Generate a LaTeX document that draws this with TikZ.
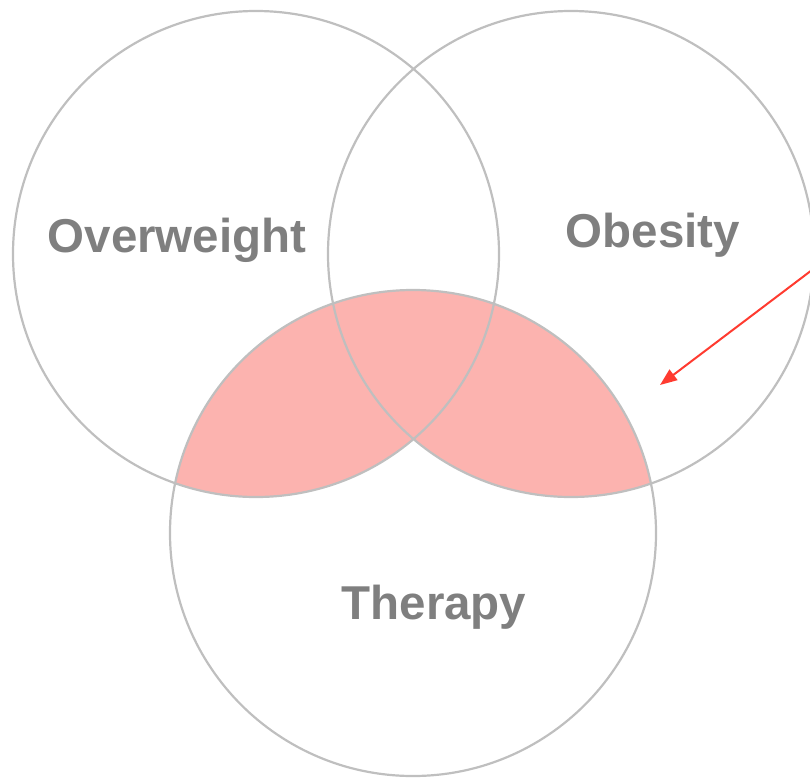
\documentclass[tikz,border=0pt]{standalone}
\usepackage{fontspec}
\setmainfont{Liberation Sans}
\usepackage{tikz}
\usetikzlibrary{arrows.meta}

\definecolor{ringgray}{HTML}{BFBFBF}
\definecolor{labelgray}{HTML}{7F7F7F}
\definecolor{overlappink}{HTML}{FCB3AF}
\definecolor{pointred}{HTML}{FF3B30}

\begin{document}
\begin{tikzpicture}[x=1pt,y=-1pt,
    ring/.style={draw=ringgray,line width=2.2pt},
    setlabel/.style={text=labelgray,font=\fontsize{47.5}{50}\selectfont\bfseries,anchor=base,inner sep=0pt}]
          \useasboundingbox (0,0) rectangle (810,779);
          \coordinate (over) at (256,254);
          \coordinate (obes) at (571,254);
          \coordinate (ther) at (413,533);
          % shaded part: therapy with overweight or obesity
          \begin{scope}
            \clip (ther) circle (243);
            \fill[overlappink] (over) circle (243);
            \fill[overlappink] (obes) circle (243);
          \end{scope}
          \draw[ring] (over) circle (243);
          \draw[ring] (obes) circle (243);
          \draw[ring] (ther) circle (243);
          \node[setlabel] (overlabel) at (177,252) {Overweight};
          \node[setlabel] (obeslabel) at (653,247) {Obesity};
          \node[setlabel] (therlabel) at (434,619) {Therapy};
          \coordinate (pointfrom) at (812,270);
          \coordinate (pointto) at (660,385);
          \draw[pointred,line width=2pt,-{Triangle[length=17pt,width=13pt]}] (pointfrom) -- (pointto);
        \end{tikzpicture}
\end{document}
